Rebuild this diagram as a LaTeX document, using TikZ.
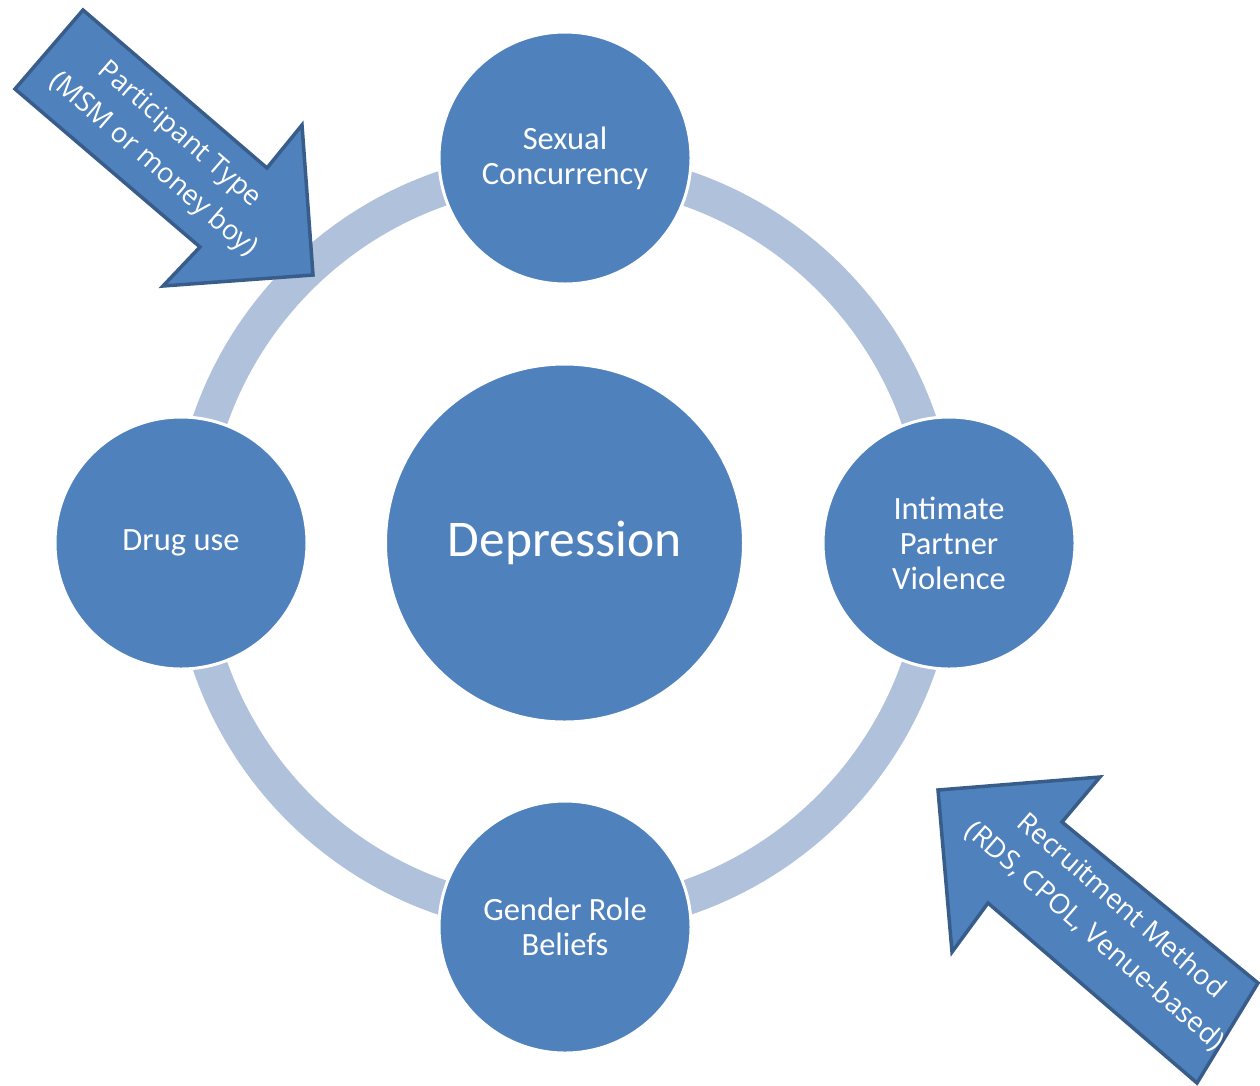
\documentclass[tikz,border=0pt]{standalone}
\usepackage{fontspec}
\setmainfont{Carlito}
\newfontfamily\arrowfont{Open Sans}
\definecolor{nodeblue}{RGB}{79,129,189}
\definecolor{ringblue}{RGB}{176,193,220}
\definecolor{edgeblue}{RGB}{56,93,138}
\tikzset{
  ringstyle/.style={draw=ringblue, line width=35pt},
  bubble/.style={circle, fill=nodeblue, draw=white, line width=3pt, inner sep=0pt,
    minimum size=252pt, text=white, align=center,
    font=\fontsize{32.5pt}{35pt}\selectfont},
  bigbubble/.style={bubble, minimum size=358pt, font=\fontsize{51.5pt}{56pt}\selectfont},
  bigarrow/.style={fill=nodeblue, draw=edgeblue, line width=3.5pt, line join=miter},
  arrowtext/.style={text=white, align=center, rotate=-41,
    font=\arrowfont\fontsize{27.5pt}{40pt}\selectfont}
}
\begin{document}
\begin{tikzpicture}[x=1pt,y=-1pt]
\useasboundingbox (0,0) rectangle (1260,1085);
% ring
\coordinate (c) at (564.5,543);
\draw[ringstyle] (c) circle[radius=375pt];
% circles
\node[bigbubble] (dep) at (c) {Depression};
\node[bubble] (sex) at (565,158) {Sexual\\Concurrency};
\node[bubble] (ipv) at (949,543) {Intimate\\Partner\\Violence};
\node[bubble] (gen) at (565,927) {Gender Role\\Beliefs};
\node[bubble] (drug) at (181,543) {Drug use};
% arrow 1
\draw[bigarrow] (83,10) -- (267,168) -- (302,125) -- (313,275) -- (163,286) -- (200,247) -- (15,89) -- cycle;
\node[arrowtext] (pt) at (166,150) {Participant Type\\(MSM or money boy)};
% arrow 2
\draw[bigarrow] (938,790) -- (1100,777) -- (1062,822) -- (1258,983) -- (1197,1083) -- (988,903) -- (952,952) -- cycle;
\node[arrowtext] (rm) at (1108,921) {Recruitment Method\\(RDS, CPOL, Venue-based)};
\end{tikzpicture}
\end{document}
